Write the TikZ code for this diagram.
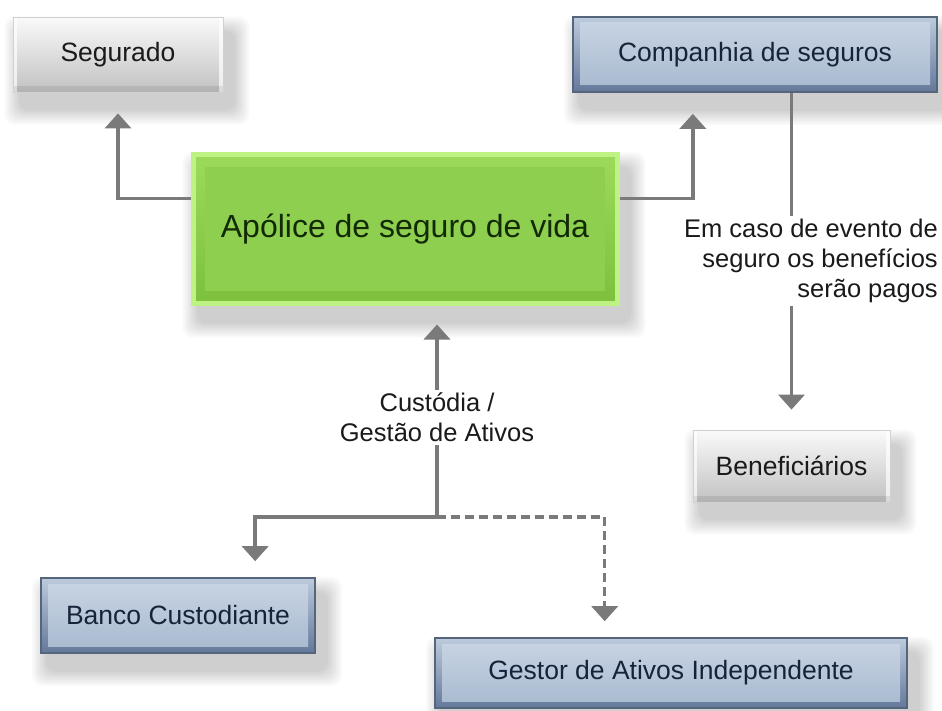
\documentclass[tikz,border=0pt]{standalone}
\usepackage{fontspec}
\setmainfont{Liberation Sans}
\usetikzlibrary{arrows.meta,calc,backgrounds}
\definecolor{linegray}{HTML}{7A7A7A}
\definecolor{blueedge}{HTML}{55667C}
\definecolor{bluetop}{HTML}{BCCADC}
\definecolor{bluebot}{HTML}{64789A}
\definecolor{blueintop}{HTML}{C9D5E4}
\definecolor{blueinbot}{HTML}{A7B9CF}
\definecolor{greenglow}{HTML}{BEF384}
\definecolor{greentop}{HTML}{9CDA5C}
\definecolor{greenbot}{HTML}{7DC03E}
\definecolor{greenin}{HTML}{8ECF4F}
\definecolor{txtdark}{HTML}{1A1A1A}
\definecolor{txtnavy}{HTML}{17233A}
\definecolor{txtgreen}{HTML}{132A06}
\begin{document}
\begin{tikzpicture}[x=1pt,y=-1pt,
  boxtext/.style={font=\fontsize{26.5}{31}\selectfont},
  graybox/.style={boxtext, text=txtdark, draw=white!82!black, line width=0.8pt,
    top color=white!98!black, bottom color=white!76!black, inner sep=0pt,
    path picture={
      \fill[white,opacity=0.7] (path picture bounding box.north west) rectangle ([xshift=4pt]path picture bounding box.south west);
      \fill[white,opacity=0.7] ([xshift=-4pt]path picture bounding box.north east) rectangle (path picture bounding box.south east);
      \fill[black,opacity=0.08] ([yshift=6pt]path picture bounding box.south west) rectangle (path picture bounding box.south east);
    }},
  bluebox/.style={boxtext, text=txtnavy, draw=blueedge, line width=1.6pt,
    top color=bluetop, bottom color=bluebot, inner sep=0pt,
    path picture={
      \shade[top color=blueintop, bottom color=blueinbot]
        ([xshift=7pt,yshift=-6pt]path picture bounding box.north west) rectangle
        ([xshift=-7pt,yshift=7pt]path picture bounding box.south east);
    }},
  greenbox/.style={font=\fontsize{32}{37}\selectfont, text=txtgreen, draw=greenglow, line width=5pt,
    top color=greentop, bottom color=greenbot, inner sep=0pt,
    path picture={
      \fill[greenin]
        ([xshift=12pt,yshift=-12pt]path picture bounding box.north west) rectangle
        ([xshift=-12pt,yshift=12pt]path picture bounding box.south east);
    }},
  conn/.style={draw=linegray, line width=3.5pt, -{Triangle[width=26pt,length=15pt]}},
  lbl/.style={font=\fontsize{25.5}{30}\selectfont, text=txtdark, fill=white, inner sep=3pt}
]
\useasboundingbox (0,0) rectangle (942,711);

% nodes
\node[graybox, minimum width=210pt, minimum height=75pt] (seg) at (118,54.5) {Segurado};
\node[bluebox, minimum width=364pt, minimum height=75pt] (comp) at (755,54.5) {Companhia de seguros};
\node[greenbox, minimum width=424pt, minimum height=148pt] (pol) at (405,229) {Apólice de seguro de vida};
\node[graybox, minimum width=197pt, minimum height=72pt] (ben) at (791.5,466) {Beneficiários};
\node[bluebox, minimum width=274pt, minimum height=75pt] (banco) at (178,615.5) {Banco Custodiante};
\node[bluebox, minimum width=472pt, minimum height=70pt] (gest) at (671,673) {Gestor de Ativos Independente};

% background and shadows
\begin{scope}[on background layer]
  \fill[white] (0,0) rectangle (942,711);
  \foreach \n in {seg,comp,pol,ben,banco,gest}{
    \foreach \k in {0,...,7}{
      \fill[black,opacity=0.022,rounded corners=10pt]
        ($(\n.north west)+({6-2*\k},{14-2*\k})$) rectangle
        ($(\n.south east)+({12+2*\k},{18+2*\k})$);
    }
  }
\end{scope}

% helper coordinates
\coordinate (pl) at ($(pol.north west)!0.3!(pol.south west)$);
\coordinate (pr) at ($(pol.north east)!0.3!(pol.south east)$);
\coordinate (ct) at ($(comp.south west)!0.33!(comp.south east)$);
\coordinate (j) at (437,517);
\coordinate (bt) at ($(banco.north west)!0.78!(banco.north east)$);
\coordinate (gt) at ($(gest.north west)!0.36!(gest.north east)$);

% connectors
\draw[conn, shorten >=21pt] (pl) -| (seg.south);
\draw[conn, shorten >=21pt] (pr) -| (ct);
\draw[conn, shorten >=20pt] (ben.north |- comp.south) -- (ben.north)
  node[lbl, pos=0.5, align=right, anchor=east, xshift=151pt] (evt)
  {Em caso de evento de\\seguro os benefícios\\serão pagos};
\draw[conn, shorten >=19pt] (j) -- (j |- pol.south)
  node[lbl, pos=0.47, align=center] (cust) {Custódia /\\Gestão de Ativos};
\draw[conn, shorten >=16pt] (j) -| (bt);
\draw[conn, dash pattern=on 9pt off 5pt, shorten >=16pt] (j) -| (gt);
\end{tikzpicture}
\end{document}
